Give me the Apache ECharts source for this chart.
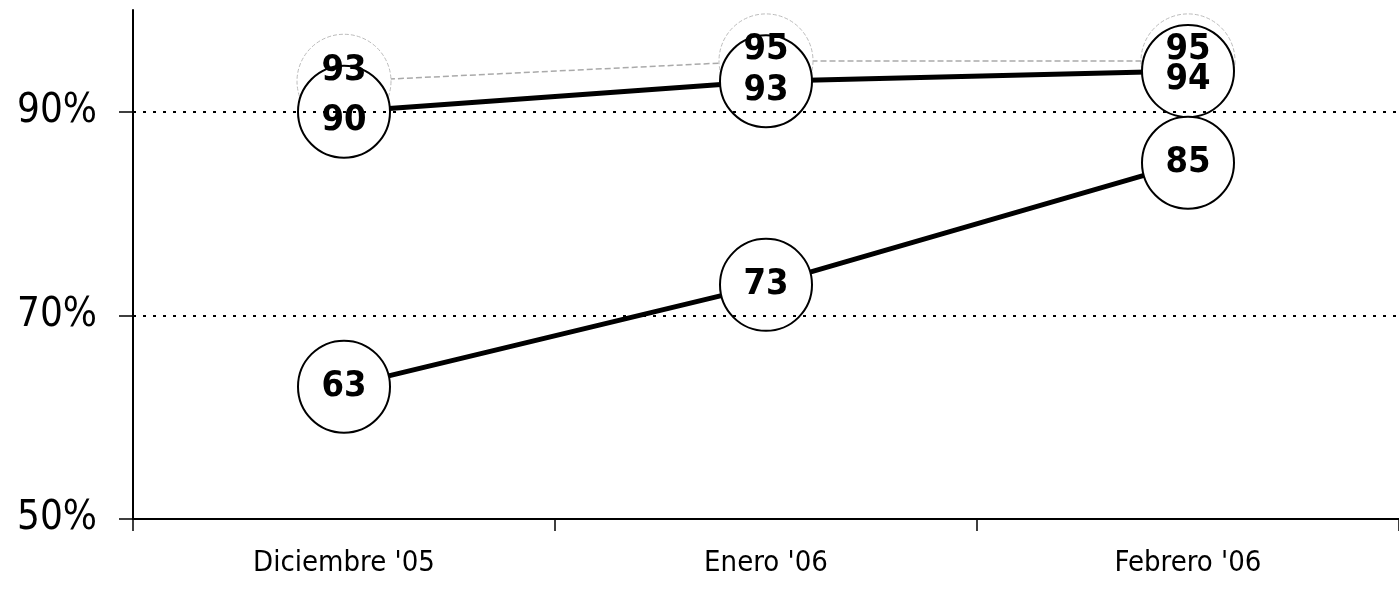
<!DOCTYPE html>
<html><head><meta charset="utf-8">
<script src="https://cdn.jsdelivr.net/npm/echarts@6/dist/echarts.min.js"></script>
<style>html,body{margin:0;padding:0;background:#fff}#c{width:1399px;height:593px}</style>
</head><body><div id="c"></div>
<script>
const categories = ["Diciembre '05", "Enero '06", "Febrero '06"];
const seriesTop = [93, 95, 95];
const seriesMid = [90, 93, 94];
const seriesLow = [63, 73, 85];
const yTicks = [50, 70, 90];

const FONT = '"DejaVu Sans Condensed", "DejaVu Sans", sans-serif';
const chart = echarts.init(document.getElementById('c'));
const circleLabel = (dy) => ({
  show: true, position: 'inside', offset: [0, dy],
  color: '#000', opacity: 1, fontFamily: FONT, fontWeight: 'bold', fontSize: 36,
  formatter: p => p.value
});
chart.setOption({
  animation: false,
  grid: { left: 133, right: 0, top: 10, bottom: 74, containLabel: false },
  xAxis: {
    type: 'category', data: categories, boundaryGap: true,
    axisLine: { lineStyle: { color: '#000', width: 2 } },
    axisTick: { show: true, length: 12, lineStyle: { color: '#000', width: 1.5 } },
    axisLabel: { color: '#000', fontFamily: FONT, fontSize: 29, margin: 30 },
    splitLine: { show: false }
  },
  yAxis: {
    type: 'value', min: 50, max: 100, interval: 20,
    axisLine: { show: true, lineStyle: { color: '#000', width: 2 } },
    axisTick: { show: true, length: 14, customValues: yTicks, lineStyle: { color: '#000', width: 1.5 } },
    axisLabel: { color: '#000', fontFamily: FONT, fontSize: 40, margin: 36, customValues: yTicks, formatter: v => v + '%' },
    splitLine: { show: false }
  },
  series: [
    {
      type: 'line', data: seriesTop, z: 1,
      symbol: 'circle', symbolSize: 94,
      itemStyle: { color: '#fff', borderColor: '#bbb', borderWidth: 1, borderType: 'dashed' },
      lineStyle: { color: '#aaa', width: 1.5, type: 'dashed' },
      label: { show: false },
      markLine: {
        silent: true, symbol: 'none', label: { show: false },
        lineStyle: { color: '#000', type: [3, 7], width: 2 },
        data: [{ yAxis: 70 }, { yAxis: 90 }]
      }
    },
    {
      type: 'line', data: seriesMid, z: 3,
      symbol: 'circle', symbolSize: 92,
      itemStyle: { color: '#fff', borderColor: '#000', borderWidth: 2 },
      lineStyle: { color: '#000', width: 5 },
      label: circleLabel(9)
    },
    {
      type: 'line', data: seriesLow, z: 3,
      symbol: 'circle', symbolSize: 92,
      itemStyle: { color: '#fff', borderColor: '#000', borderWidth: 2 },
      lineStyle: { color: '#000', width: 5 },
      label: circleLabel(0)
    },
    {
      type: 'scatter', data: seriesTop, z: 5,
      symbolSize: 1, itemStyle: { color: '#fff', opacity: 1 },
      label: circleLabel(-11)
    }
  ]
});
</script></body></html>
